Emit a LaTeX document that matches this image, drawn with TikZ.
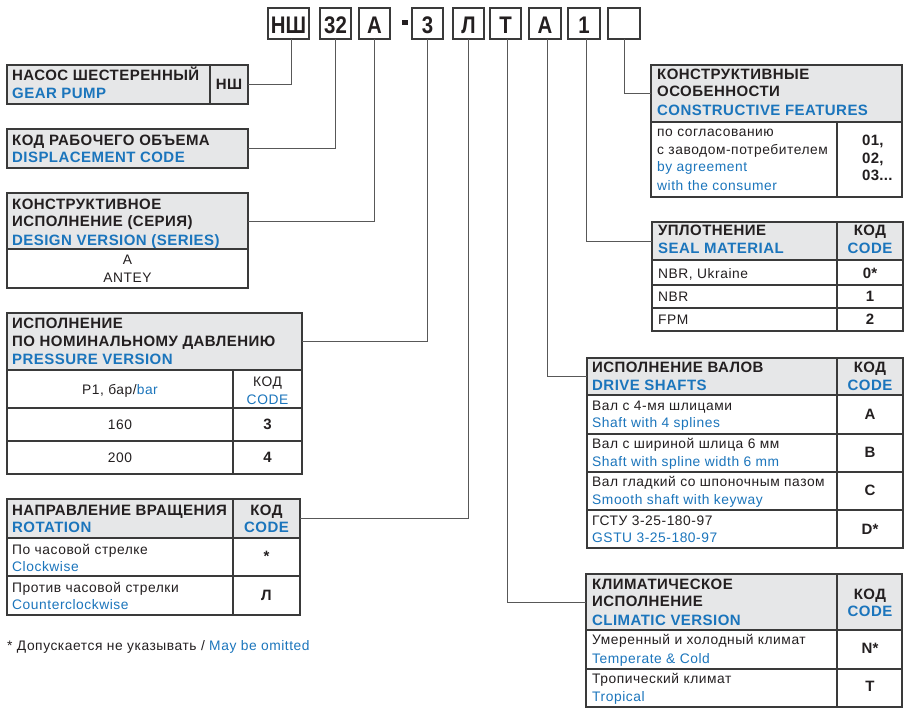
\documentclass[tikz,border=0pt]{standalone}
\usepackage{fontspec}
\setmainfont{Liberation Sans}
\newfontfamily\hdfont[LetterSpace=3]{Liberation Sans Bold}
\newfontfamily\bdfont[LetterSpace=4]{Liberation Sans}
\newfontfamily\bdbfont[LetterSpace=2]{Liberation Sans Bold}
\newfontfamily\codefont[FakeStretch=0.85]{Liberation Sans Bold}
\definecolor{txt}{HTML}{231F20}
\definecolor{blu}{HTML}{1B75BC}
\definecolor{hdgray}{HTML}{E6E7E8}
\definecolor{bord}{HTML}{3A3A3A}
\tikzset{
  cellbox/.style={draw=bord, line width=1.3pt, inner sep=0pt, outer sep=0pt, anchor=north west},
  hd/.style={fill=hdgray},
  wh/.style={fill=white},
  conn/.style={draw=bord!85, line width=1pt},
  hdt/.style={anchor=base west, inner sep=0pt, font=\hdfont\fontsize{15}{17}\selectfont, text=txt},
  hdb/.style={hdt, text=blu},
  kod/.style={anchor=base, inner sep=0pt, font=\hdfont\fontsize{15}{17}\selectfont, text=txt},
  kodb/.style={kod, text=blu},
  bt/.style={anchor=base west, inner sep=0pt, font=\bdfont\fontsize{13.8}{16}\selectfont, text=txt},
  bb/.style={bt, text=blu},
  bc/.style={anchor=base, inner sep=0pt, font=\bdfont\fontsize{13.8}{16}\selectfont, text=txt},
  bcb/.style={bc, text=blu},
  cd/.style={anchor=base, inner sep=0pt, font=\bdbfont\fontsize{15}{17}\selectfont, text=txt},
  cdl/.style={anchor=base west, inner sep=0pt, font=\bdbfont\fontsize{15}{17}\selectfont, text=txt},
  topbox/.style={draw=bord, line width=1.3pt, inner sep=0pt, outer sep=0pt, anchor=north west, fill=white},
  toptxt/.style={anchor=base, inner sep=0pt, font=\codefont\fontsize{24}{28}\selectfont, text=txt},
}
\newcommand\cl[6]{\node[cellbox,#6,minimum width={(#4-#2)*1pt},minimum height={(#5-#3)*1pt}] (#1) at (#2,#3) {};}
\newcount\tn
\newcommand\tx[4]{\global\advance\tn by 1 \edef\tname{t\the\tn}\node[#1] (\tname) at (#2,#3) {#4};}
\begin{document}
\begin{tikzpicture}[x=1pt,y=-1pt]
\useasboundingbox (0,0) rectangle (910,718);
% ---------- top code boxes ----------
\cl{k1}{268}{8}{309}{39}{topbox}
\cl{k2}{320}{8}{351}{39}{topbox}
\cl{k3}{359}{8}{390}{39}{topbox}
\cl{k4}{412}{8}{443}{39}{topbox}
\cl{k5}{453}{8}{484}{39}{topbox}
\cl{k6}{490}{8}{521}{39}{topbox}
\cl{k7}{529}{8}{561}{39}{topbox}
\cl{k8}{568}{8}{600}{39}{topbox}
\cl{k9}{608}{8}{640}{39}{topbox}
\tx{toptxt}{288.5}{33}{НШ}
\tx{toptxt}{335.5}{33}{32}
\tx{toptxt}{374.5}{33}{А}
\node[fill=txt, inner sep=0pt, minimum width=6pt, minimum height=4.5pt] (dash) at (405,22.5) {};
\tx{toptxt}{427.5}{33}{3}
\tx{toptxt}{468.5}{33}{Л}
\tx{toptxt}{505.5}{33}{Т}
\tx{toptxt}{545}{33}{А}
\tx{toptxt}{584}{33}{1}
% ---------- gear pump ----------
\cl{gp}{7}{65}{248}{104}{hd}
\cl{gpk}{210}{65}{248}{104}{hd}
\tx{hdt}{12}{80.7}{НАСОС ШЕСТЕРЕННЫЙ}
\tx{hdb}{12}{98.3}{GEAR PUMP}
\tx{kod}{229}{89.5}{НШ}
% ---------- displacement ----------
\cl{dc}{7}{129}{248}{168}{hd}
\tx{hdt}{12}{145}{КОД РАБОЧЕГО ОБЪЕМА}
\tx{hdb}{12}{162.7}{DISPLACEMENT CODE}
% ---------- design version ----------
\cl{dvh}{7}{193}{248}{249}{hd}
\cl{dvb}{7}{249}{248}{288}{wh}
\tx{hdt}{12}{209}{КОНСТРУКТИВНОЕ}
\tx{hdt}{12}{226.7}{ИСПОЛНЕНИЕ (СЕРИЯ)}
\tx{hdb}{12}{245}{DESIGN VERSION (SERIES)}
\tx{bc}{127.5}{264.3}{A}
\tx{bc}{127.5}{282.7}{ANTEY}
% ---------- pressure version ----------
\cl{pvh}{7}{313}{302}{370}{hd}
\cl{pv1a}{7}{370}{233}{408}{wh}
\cl{pv1b}{233}{370}{302}{408}{wh}
\cl{pv2a}{7}{408}{233}{441}{wh}
\cl{pv2b}{233}{408}{302}{441}{wh}
\cl{pv3a}{7}{441}{233}{474}{wh}
\cl{pv3b}{233}{441}{302}{474}{wh}
\tx{hdt}{12}{328.3}{ИСПОЛНЕНИЕ}
\tx{hdt}{12}{346}{ПО НОМИНАЛЬНОМУ ДАВЛЕНИЮ}
\tx{hdb}{12}{364}{PRESSURE VERSION}
\tx{bc}{120}{394.3}{P1, бар/\textcolor{blu}{bar}}
\tx{bc}{267.5}{386.7}{КОД}
\tx{bcb}{267.5}{404}{CODE}
\tx{bc}{120}{429.3}{160}
\tx{cd}{267.5}{429.3}{3}
\tx{bc}{120}{462.7}{200}
\tx{cd}{267.5}{462.7}{4}
% ---------- rotation ----------
\cl{roh}{7}{499}{233}{538}{hd}
\cl{rok}{233}{499}{300}{538}{hd}
\cl{ro1a}{7}{538}{233}{576}{wh}
\cl{ro1b}{233}{538}{300}{576}{wh}
\cl{ro2a}{7}{576}{233}{615}{wh}
\cl{ro2b}{233}{576}{300}{615}{wh}
\tx{hdt}{12}{515}{НАПРАВЛЕНИЕ ВРАЩЕНИЯ}
\tx{hdb}{12}{532.7}{ROTATION}
\tx{kod}{266.5}{515}{КОД}
\tx{kodb}{266.5}{532.7}{CODE}
\tx{bt}{12}{554}{По часовой стрелке}
\tx{bb}{12}{571.7}{Clockwise}
\tx{cd}{266.5}{561.5}{*}
\tx{bt}{12}{592}{Против часовой стрелки}
\tx{bb}{12}{609.3}{Counterclockwise}
\tx{cd}{266.5}{600}{Л}
\tx{bt}{7}{650}{* Допускается не указывать / \textcolor{blu}{May be omitted}}
% ---------- constructive features ----------
\cl{cfh}{651}{65}{902}{122}{hd}
\cl{cf1a}{651}{122}{837}{197}{wh}
\cl{cf1b}{837}{122}{902}{197}{wh}
\tx{hdt}{657}{79}{КОНСТРУКТИВНЫЕ}
\tx{hdt}{657}{96.7}{ОСОБЕННОСТИ}
\tx{hdb}{657}{115}{CONSTRUCTIVE FEATURES}
\tx{bt}{657}{136}{по согласованию}
\tx{bt}{657}{154}{с заводом-потребителем}
\tx{bb}{657}{171.7}{by agreement}
\tx{bb}{657}{190}{with the consumer}
\tx{cdl}{862}{145}{01,}
\tx{cdl}{862}{163.3}{02,}
\tx{cdl}{862}{180.7}{03...}
% ---------- seal material ----------
\cl{smh}{652}{222}{837}{260}{hd}
\cl{smk}{837}{222}{903}{260}{hd}
\cl{sm1a}{652}{260}{837}{285}{wh}
\cl{sm1b}{837}{260}{903}{285}{wh}
\cl{sm2a}{652}{285}{837}{308}{wh}
\cl{sm2b}{837}{285}{903}{308}{wh}
\cl{sm3a}{652}{308}{837}{331}{wh}
\cl{sm3b}{837}{308}{903}{331}{wh}
\tx{hdt}{658}{235}{УПЛОТНЕНИЕ}
\tx{hdb}{658}{253.3}{SEAL MATERIAL}
\tx{kod}{870}{235}{КОД}
\tx{kodb}{870}{253.3}{CODE}
\tx{bt}{658}{278.3}{NBR, Ukraine}
\tx{cd}{870}{278.3}{0*}
\tx{bt}{658}{301}{NBR}
\tx{cd}{870}{301}{1}
\tx{bt}{658}{324}{FPM}
\tx{cd}{870}{324}{2}
% ---------- drive shafts ----------
\cl{dsh}{587}{358}{837}{395}{hd}
\cl{dsk}{837}{358}{903}{395}{hd}
\cl{ds1a}{587}{395}{837}{434}{wh}
\cl{ds1b}{837}{395}{903}{434}{wh}
\cl{ds2a}{587}{434}{837}{472}{wh}
\cl{ds2b}{837}{434}{903}{472}{wh}
\cl{ds3a}{587}{472}{837}{510}{wh}
\cl{ds3b}{837}{472}{903}{510}{wh}
\cl{ds4a}{587}{510}{837}{548}{wh}
\cl{ds4b}{837}{510}{903}{548}{wh}
\tx{hdt}{592}{372.7}{ИСПОЛНЕНИЕ ВАЛОВ}
\tx{hdb}{592}{390.7}{DRIVE SHAFTS}
\tx{kod}{870}{372.7}{КОД}
\tx{kodb}{870}{390.7}{CODE}
\tx{bt}{592}{410}{Вал с 4-мя шлицами}
\tx{bb}{592}{427.7}{Shaft with 4 splines}
\tx{cd}{870}{419}{A}
\tx{bt}{592}{448.3}{Вал с шириной шлица 6 мм}
\tx{bb}{592}{466}{Shaft with spline width 6 mm}
\tx{cd}{870}{457.7}{B}
\tx{bt}{592}{486.7}{Вал гладкий со шпоночным пазом}
\tx{bb}{592}{504.3}{Smooth shaft with keyway}
\tx{cd}{870}{495.7}{C}
\tx{bt}{592}{525}{ГСТУ 3-25-180-97}
\tx{bb}{592}{542.3}{GSTU 3-25-180-97}
\tx{cd}{870}{534}{D*}
% ---------- climatic version ----------
\cl{cvh}{586}{574}{837}{630}{hd}
\cl{cvk}{837}{574}{902}{630}{hd}
\cl{cv1a}{586}{630}{837}{669}{wh}
\cl{cv1b}{837}{630}{902}{669}{wh}
\cl{cv2a}{586}{669}{837}{707}{wh}
\cl{cv2b}{837}{669}{902}{707}{wh}
\tx{hdt}{592}{589}{КЛИМАТИЧЕСКОЕ}
\tx{hdt}{592}{606.7}{ИСПОЛНЕНИЕ}
\tx{hdb}{592}{625}{CLIMATIC VERSION}
\tx{kod}{870}{599.3}{КОД}
\tx{kodb}{870}{616.7}{CODE}
\tx{bt}{592}{644}{Умеренный и холодный климат}
\tx{bb}{592}{663.3}{Temperate \& Cold}
\tx{cd}{870}{653.3}{N*}
\tx{bt}{592}{683.3}{Тропический климат}
\tx{bb}{592}{701.7}{Tropical}
\tx{cd}{870}{691.7}{T}
% ---------- connectors ----------
\draw[conn] ([xshift=3pt]k1.south) |- (gp.east);
\draw[conn] (k2.south) |- (dc.east);
\draw[conn] (k3.south) |- (dvh.east);
\draw[conn] (k4.south) |- (pvh.east);
\draw[conn] (k5.south) |- (rok.east);
\draw[conn] ([xshift=1.5pt]k6.south) |- (cvh.west);
\draw[conn] ([xshift=2pt]k7.south) |- (dsh.west);
\draw[conn] ([xshift=2pt]k8.south) |- (smh.west);
\draw[conn] (k9.south) |- (cfh.west);
\end{tikzpicture}
\end{document}
